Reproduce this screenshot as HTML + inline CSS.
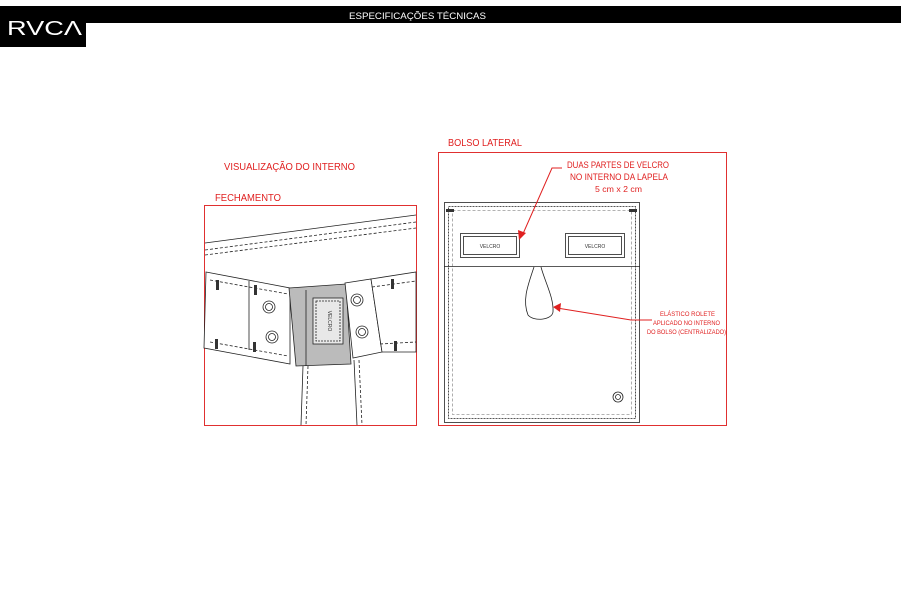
<!DOCTYPE html>
<html><head><meta charset="utf-8"><style>
body{margin:0;background:#fff;width:901px;height:600px;overflow:hidden;font-family:"Liberation Sans",sans-serif}
</style></head><body>
<svg width="901" height="600" viewBox="0 0 901 600" xmlns="http://www.w3.org/2000/svg" font-family="Liberation Sans, sans-serif">
<rect x="0" y="6" width="901" height="17" fill="#000"/>
<rect x="0" y="6" width="86" height="41" fill="#000"/>
<text x="7" y="35" fill="#fff" font-size="20" textLength="75" lengthAdjust="spacingAndGlyphs">RVCΛ</text>
<text x="349" y="19" fill="#fff" font-size="9" textLength="137" lengthAdjust="spacingAndGlyphs">ESPECIFICAÇÕES TÉCNICAS</text>

<g fill="#e02020" font-size="10">
<text x="224" y="170" textLength="131" lengthAdjust="spacingAndGlyphs">VISUALIZAÇÃO DO INTERNO</text>
<text x="215" y="201" textLength="66" lengthAdjust="spacingAndGlyphs">FECHAMENTO</text>
<text x="448" y="146" textLength="74" lengthAdjust="spacingAndGlyphs">BOLSO LATERAL</text>
<text x="567" y="168" font-size="9" textLength="102" lengthAdjust="spacingAndGlyphs">DUAS PARTES DE VELCRO</text>
<text x="570" y="180" font-size="9" textLength="98" lengthAdjust="spacingAndGlyphs">NO INTERNO DA LAPELA</text>
<text x="595" y="192" font-size="8" textLength="47" lengthAdjust="spacingAndGlyphs">5 cm x  2 cm</text>
<text x="660" y="316" font-size="6" textLength="55" lengthAdjust="spacingAndGlyphs">ELÁSTICO ROLETE</text>
<text x="653" y="325" font-size="6" textLength="67" lengthAdjust="spacingAndGlyphs">APLICADO NO INTERNO</text>
<text x="647" y="334" font-size="6" textLength="79" lengthAdjust="spacingAndGlyphs">DO BOLSO (CENTRALIZADO)</text>
</g>
<rect x="204.5" y="205.5" width="212" height="220" fill="none" stroke="#e03030"/>
<rect x="438.5" y="152.5" width="288" height="273" fill="none" stroke="#e03030"/>

<g stroke="#222" fill="none" stroke-width="0.8">
<line x1="205" y1="243" x2="416" y2="215"/>
<line x1="205" y1="250" x2="416" y2="222" stroke-dasharray="3,2"/>
<line x1="205" y1="255" x2="416" y2="228" stroke-dasharray="3,2"/>
<polygon points="206,272 290,288 290,364 204,348" fill="#fff"/>
<line x1="210" y1="280" x2="288" y2="294" stroke-dasharray="3,2"/>
<line x1="210" y1="342" x2="288" y2="356" stroke-dasharray="3,2"/>
<line x1="249" y1="281" x2="249" y2="350"/>
<polygon points="289,288 346,284 351,364 296,366" fill="#bbb"/>
<line x1="306" y1="290" x2="306" y2="366"/>
<rect x="313" y="298" width="30" height="46" fill="#e8e8e8"/>
<rect x="316" y="301" width="24" height="40" fill="#e8e8e8" stroke-dasharray="2,1"/>
<text x="328" y="321" font-size="5" fill="#333" stroke="none" transform="rotate(90 328 321)" text-anchor="middle">VELCRO</text>
<polygon points="345,283 371,279 382,352 353,358" fill="#fff"/>
<polygon points="371,279 416,272 416,352 382,352" fill="#fff"/>
<line x1="372" y1="287" x2="416" y2="281" stroke-dasharray="3,2"/>
<line x1="380" y1="344" x2="416" y2="342" stroke-dasharray="3,2"/>
<circle cx="269" cy="307" r="6"/><circle cx="269" cy="307" r="3.5"/>
<circle cx="272" cy="337" r="6"/><circle cx="272" cy="337" r="3.5"/>
<circle cx="357" cy="300" r="6"/><circle cx="357" cy="300" r="3.5"/>
<circle cx="362" cy="332" r="6"/><circle cx="362" cy="332" r="3.5"/>
<line x1="303" y1="366" x2="301" y2="425"/>
<line x1="308" y1="366" x2="306" y2="425" stroke-dasharray="3,2"/>
<line x1="354" y1="360" x2="357" y2="425"/>
<line x1="359" y1="360" x2="362" y2="425" stroke-dasharray="3,2"/>
</g>
<g fill="#333">
<rect x="216" y="280" width="3" height="10"/><rect x="215" y="339" width="3" height="10"/>
<rect x="254" y="285" width="3" height="10"/><rect x="253" y="342" width="3" height="10"/>
<rect x="391" y="279" width="3" height="10"/><rect x="394" y="341" width="3" height="10"/>
</g>

<g stroke="#222" fill="none" stroke-width="0.8">
<rect x="444.5" y="202.5" width="195" height="220"/>
<rect x="448.5" y="206.5" width="187" height="212" stroke-dasharray="2,1"/>
<rect x="452.5" y="210.5" width="179" height="204" stroke="#999" stroke-dasharray="3,2"/>
<line x1="444" y1="266.5" x2="640" y2="266.5"/>
<rect x="460.5" y="233.5" width="59" height="24"/><rect x="463.5" y="236.5" width="53" height="18"/>
<rect x="565.5" y="233.5" width="59" height="24"/><rect x="568.5" y="236.5" width="53" height="18"/>
<path d="M534,267 C528,285 522,300 528,315 C534,322 552,320 553,312 C554,298 545,282 541,267"/>
<circle cx="618" cy="397" r="5"/><circle cx="618" cy="397" r="2.5"/>
</g>
<rect x="446" y="209" width="8" height="3" fill="#333"/><rect x="629" y="209" width="8" height="3" fill="#333"/>
<text x="490" y="248" font-size="5" text-anchor="middle" fill="#333">VELCRO</text>
<text x="595" y="248" font-size="5" text-anchor="middle" fill="#333">VELCRO</text>

<g stroke="#e02020" fill="none" stroke-width="1">
<polyline points="562,168 552,168 522,236"/>
<polyline points="652,320 631,320 557,308"/>
</g>
<polygon points="519,240 518,230 526,233" fill="#e02020"/>
<polygon points="553,307 561,303 560,312" fill="#e02020"/>
</svg>
</body></html>
